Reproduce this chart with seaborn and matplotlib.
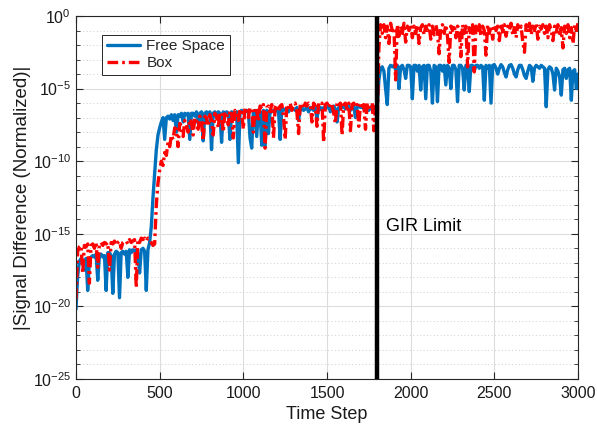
import numpy as np
import pandas as pd
import matplotlib
matplotlib.use("Agg")
import matplotlib.pyplot as plt
import matplotlib.ticker as mticker
import seaborn as sns

# Time steps sampled every 10 steps, 0..3000
time_step = list(range(0, 3001, 10))

# log10 of |signal difference|, free-space simulation
free_space_log10 = [
    -20.2, -17.9, -16.9, -16.7, -16.8, -17.5, -16.7, -18.9, -16.8, -16.6,
    -16.5, -16.6, -16.4, -18.2, -16.5, -16.4, -16.6, -16.5, -18.9, -16.3,
    -16.3, -16.5, -19.1, -16.4, -16.2, -16.3, -19.4, -16.3, -16.2, -16.4,
    -16.2, -18.0, -16.1, -16.3, -16.1, -16.2, -16.1, -16.4, -17.7, -16.1,
    -16.0, -16.2, -18.9, -16.1, -15.6, -14.5, -12.5, -10.8, -9.2, -8.2,
    -7.7, -7.3, -7.0, -8.5, -7.0, -6.9, -7.1, -6.8, -7.2, -6.8,
    -8.0, -6.8, -6.9, -6.7, -7.3, -6.7, -6.8, -6.7, -8.5, -6.7,
    -6.7, -6.9, -6.6, -7.4, -6.7, -6.6, -8.6, -6.7, -6.6, -6.8,
    -6.6, -9.2, -6.7, -6.6, -7.0, -6.6, -6.7, -8.7, -6.6, -6.7,
    -6.6, -6.7, -8.5, -6.6, -6.7, -6.8, -6.6, -10.1, -6.6, -6.5,
    -6.7, -6.6, -6.5, -6.6, -8.4, -9.1, -6.6, -6.5, -8.3, -6.5,
    -6.6, -8.9, -6.5, -9.0, -6.5, -8.1, -6.5, -6.6, -6.5, -6.6,
    -6.4, -6.5, -8.5, -6.4, -6.5, -6.4, -6.5, -6.6, -6.4, -6.4,
    -6.4, -6.5, -6.3, -7.2, -6.4, -6.3, -6.5, -6.4, -6.3, -6.6,
    -6.3, -6.4, -6.5, -6.3, -7.0, -6.4, -6.3, -6.5, -6.3, -6.4,
    -6.3, -6.2, -6.6, -6.3, -6.2, -6.4, -7.3, -6.3, -6.2, -6.3,
    -6.2, -6.4, -6.3, -6.2, -6.5, -6.3, -6.2, -7.0, -6.3, -6.2,
    -6.3, -6.2, -6.4, -6.3, -6.2, -6.5, -6.3, -6.2, -6.4, -6.5,
    -6.4, -4.4, -3.6, -3.5, -3.8, -5.0, -6.1, -3.6, -3.4, -3.5,
    -3.4, -3.7, -3.4, -5.0, -3.5, -3.4, -3.7, -4.3, -3.4, -3.4,
    -3.5, -5.7, -3.4, -3.4, -3.8, -3.4, -5.1, -3.5, -3.4, -5.7,
    -3.4, -3.4, -3.8, -6.0, -3.4, -3.5, -5.9, -3.4, -3.4, -3.8,
    -3.4, -4.75, -3.4, -3.6, -5.0, -3.4, -3.4, -3.7, -5.9, -3.4,
    -3.4, -3.6, -5.1, -3.4, -3.5, -5.2, -3.4, -3.4, -3.8, -3.4,
    -3.4, -3.6, -3.4, -3.5, -5.8, -3.4, -3.6, -3.4, -6.0, -3.4,
    -3.35, -3.6, -4.0, -3.6, -3.35, -3.5, -3.9, -4.2, -3.7, -3.4,
    -3.35, -3.6, -4.0, -4.2, -3.7, -3.4, -3.4, -3.7, -4.1, -4.3,
    -3.8, -3.4, -3.5, -4.5, -3.6, -3.4, -3.5, -3.6, -3.4, -3.5,
    -3.6, -6.25, -3.7, -3.5, -3.6, -4.0, -5.1, -3.6, -3.8, -4.2,
    -5.45, -3.7, -3.6, -4.3, -3.7, -3.6, -5.8, -3.8, -3.7, -5.0,
    -4.0,
]

# log10 of |signal difference|, simulation inside the box
box_log10 = [
    -19.5, -16.2, -15.9, -15.8, -17.7, -15.8, -15.9, -15.7, -18.4, -15.8,
    -15.7, -16.0, -15.6, -17.3, -15.7, -15.6, -15.8, -15.6, -15.7, -15.6,
    -17.5, -15.6, -15.7, -15.5, -15.8, -15.6, -15.5, -16.0, -15.6, -15.5,
    -15.5, -15.7, -15.4, -15.6, -15.5, -15.4, -18.7, -15.4, -15.6, -15.3,
    -15.4, -15.3, -15.5, -15.3, -15.4, -15.6, -15.8, -15.7, -13.0, -11.5,
    -10.6, -10.0, -10.3, -9.4, -9.6, -8.7, -9.0, -8.2, -8.5, -7.7,
    -7.8, -9.0, -7.4, -7.6, -8.3, -7.2, -7.5, -8.0, -7.1, -7.3,
    -8.2, -7.0, -7.2, -7.8, -6.9, -7.3, -8.6, -6.9, -7.0, -7.6,
    -6.8, -7.2, -8.2, -6.7, -6.9, -7.7, -6.6, -6.8, -8.0, -6.6,
    -6.7, -7.5, -6.5, -6.6, -8.4, -6.5, -6.7, -7.2, -6.4, -6.6,
    -7.8, -6.3, -6.5, -7.0, -6.3, -6.4, -8.0, -6.3, -6.5, -7.3,
    -6.2, -6.4, -6.1, -9.1, -6.3, -6.2, -6.6, -6.1, -8.4, -6.3,
    -6.1, -6.6, -6.2, -6.1, -6.9, -8.5, -6.1, -6.3, -6.0, -6.5,
    -6.1, -6.0, -6.6, -8.1, -6.1, -6.0, -6.4, -6.0, -6.2, -6.0,
    -6.1, -7.3, -6.0, -6.2, -7.6, -6.0, -6.1, -6.0, -8.7, -6.1,
    -6.0, -6.3, -6.0, -6.1, -6.7, -7.4, -6.0, -6.2, -6.0, -8.2,
    -6.1, -6.0, -6.4, -6.0, -7.9, -6.1, -6.0, -6.3, -6.1, -7.6,
    -6.0, -6.2, -6.1, -7.8, -6.0, -6.3, -6.1, -6.0, -7.9, -6.2,
    -7.7, -2.2, -0.6, -1.2, -0.6, -1.5, -0.7, -1.9, -0.5, -1.0,
    -0.8, -4.4, -0.6, -1.4, -0.7, -1.2, -0.5, -1.8, -0.7, -1.0,
    -0.6, -1.5, -0.7, -1.2, -0.6, -1.9, -0.8, -0.6, -1.3, -0.7,
    -1.0, -0.6, -1.6, -0.7, -1.3, -0.6, -1.1, -2.6, -0.7, -0.6,
    -1.2, -0.6, -1.4, -3.2, -0.7, -1.0, -0.6, -1.5, -0.7, -0.9,
    -2.8, -0.6, -1.2, -0.7, -3.5, -0.8, -1.3, -0.6, -3.85, -0.7,
    -1.1, -0.6, -1.4, -0.7, -1.0, -2.7, -0.6, -1.2, -0.7, -1.6,
    -0.6, -1.0, -0.7, -1.7, -0.5, -1.1, -0.6, -1.4, -0.7, -1.0,
    -0.5, -1.3, -0.8, -1.5, -0.6, -1.0, -0.7, -1.8, -2.5, -0.6,
    -1.1, -0.5, -1.3, -0.7, -1.0, -0.5, -1.6, -0.7, -0.9, -0.6,
    -1.2, -0.7, -1.5, -0.6, -1.0, -1.7, -0.7, -1.1, -0.6, -1.4,
    -0.8, -2.2, -0.7, -1.2, -0.6, -1.5, -0.8, -1.9, -0.6, -1.0,
    -0.5,
]

gir_limit_step = 1800
series_names = ["Free Space", "Box"]
y_ticks = [1e-25, 1e-20, 1e-15, 1e-10, 1e-5, 1e0]
x_ticks = [0, 500, 1000, 1500, 2000, 2500, 3000]

df = pd.DataFrame({
    "Time Step": time_step * 2,
    "value": list(10.0 ** np.array(free_space_log10)) + list(10.0 ** np.array(box_log10)),
    "series": [series_names[0]] * len(time_step) + [series_names[1]] * len(time_step),
})

sns.set_style("ticks")
plt.rcParams["font.family"] = ["Liberation Sans", "DejaVu Sans"]
plt.rcParams["mathtext.default"] = "regular"

fig = plt.figure(figsize=(5.97, 4.32), dpi=100)
ax = fig.add_axes([0.1273, 0.1227, 0.8409, 0.8403])
ax.set_yscale("log")

axis_gray = "#262626"
text_gray = "#1a1a1a"

sns.lineplot(data=df[df["series"] == series_names[0]], x="Time Step", y="value",
             ax=ax, color="#0072BD", linewidth=2.4, label=series_names[0],
             estimator=None, sort=False)
sns.lineplot(data=df[df["series"] == series_names[1]], x="Time Step", y="value",
             ax=ax, color="#FF0000", linewidth=2.4, label=series_names[1],
             estimator=None, sort=False, linestyle=(0, (3.2, 1.2, 0.8, 1.2)))

ax.axvline(gir_limit_step, color="black", linewidth=3.2, zorder=5)
ax.text(gir_limit_step + 55, 10 ** -14.5, "GIR Limit", fontsize=13,
        va="center", ha="left", color="black")

ax.set_xlim(0, 3000)
ax.set_ylim(1e-25, 1e0)
ax.set_xticks(x_ticks)
ax.set_yticks(y_ticks)
ax.yaxis.set_major_formatter(mticker.FuncFormatter(
    lambda v, p: r"$10^{%d}$" % int(round(np.log10(v)))))
ax.yaxis.set_minor_locator(mticker.FixedLocator([10.0 ** k for k in range(-25, 1)]))
ax.yaxis.set_minor_formatter(mticker.NullFormatter())

ax.grid(True, which="major", color="#dcdcdc", linewidth=0.8, linestyle="-")
ax.grid(True, which="minor", axis="y", color="#cfcfcf", linewidth=0.7,
        linestyle=(0, (1, 2.5)))
ax.set_axisbelow(True)

for side in ["left", "right", "top", "bottom"]:
    ax.spines[side].set_visible(True)
    ax.spines[side].set_color(axis_gray)
    ax.spines[side].set_linewidth(0.8)
ax.tick_params(which="both", direction="in", top=True, right=True,
               colors=axis_gray, labelcolor=text_gray, labelsize=11.5)
ax.tick_params(which="major", length=5)
ax.tick_params(which="minor", length=3)
ax.tick_params(axis="x", pad=5)

ax.set_xlabel("Time Step", fontsize=13, color=text_gray, labelpad=4)
ax.set_ylabel("|Signal Difference (Normalized)|", fontsize=13.5, color=text_gray,
              labelpad=1)

leg = ax.legend(loc="upper left", bbox_to_anchor=(0.052, 0.948), borderaxespad=0,
                fontsize=11, frameon=True, fancybox=False, handlelength=2.2,
                borderpad=0.3, labelspacing=0.2, handletextpad=0.4)
leg.get_frame().set_edgecolor(axis_gray)
leg.get_frame().set_linewidth(0.7)
leg.get_frame().set_alpha(1)

fig.savefig("out.png", dpi=100)
